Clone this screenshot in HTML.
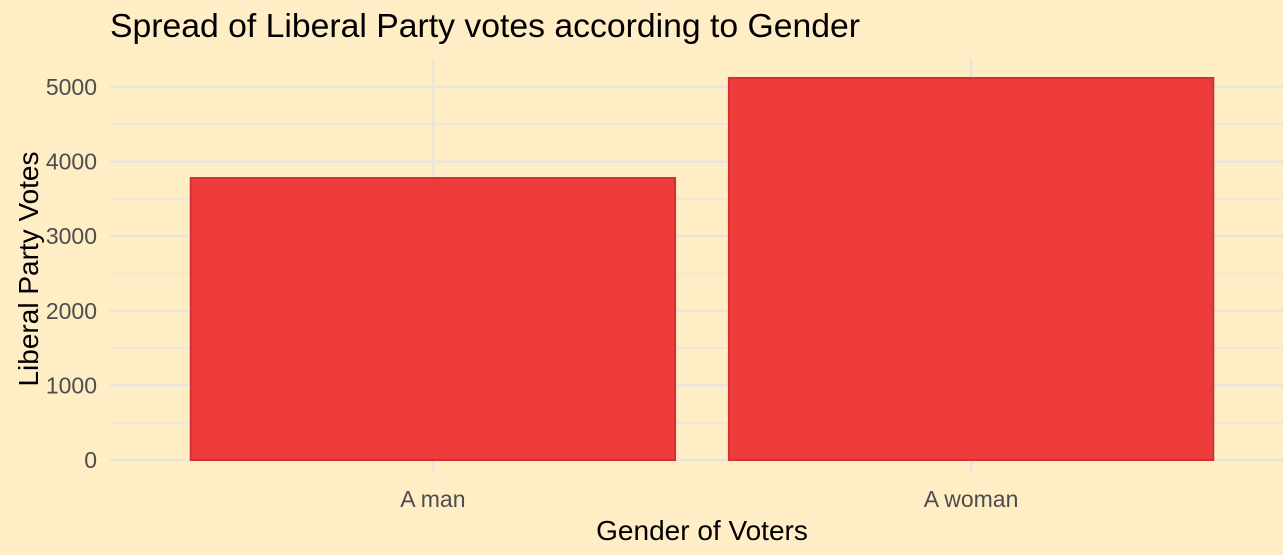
<!DOCTYPE html>
<html><head><meta charset="utf-8"><style>
html,body{margin:0;padding:0;background:#FFEDC5;}
svg{display:block;font-family:"Liberation Sans",Arial,sans-serif;}
</style></head><body>
<svg id="chart" width="1283" height="555">
<rect width="1283" height="555" fill="#FFEDC5"/>
<text x="110" y="37" font-size="33" textLength="750" lengthAdjust="spacingAndGlyphs" fill="#000">Spread of Liberal Party votes according to Gender</text>
<g id="grid"></g><g id="bars"></g><g id="axes"></g>
<text x="702" y="540" font-size="28" text-anchor="middle" fill="#000">Gender of Voters</text>
<text transform="translate(38,269) rotate(-90)" font-size="28" text-anchor="middle" fill="#000">Liberal Party Votes</text>
</svg>
<script>
const categories=["A man","A woman"];
const votes=[3780,5121];
const yTicks=[0,1000,2000,3000,4000,5000];
const NS="http://www.w3.org/2000/svg";
const left=110,right=1294,y0=460,pxPer=0.0746;
const step=(right-left)/(categories.length-1+1.2);
function xPos(i){return left+0.6*step+i*step;}
function yPos(v){return y0-v*pxPer;}
function mk(tag,attrs,parent){const e=document.createElementNS(NS,tag);for(const k in attrs)e.setAttribute(k,attrs[k]);parent.appendChild(e);return e;}
const grid=document.getElementById('grid'),bars=document.getElementById('bars'),axes=document.getElementById('axes');
const gc="#E9E5DC";
for(let i=0;i<yTicks.length;i++){
  const y=yPos(yTicks[i]);
  const l=mk('line',{x1:left,x2:1283,y1:y,y2:y,stroke:gc,'stroke-width':2.5},grid);
  
  
  if(i<yTicks.length-1){const ym=yPos((yTicks[i]+yTicks[i+1])/2);
    const m=mk('line',{x1:left,x2:1283,y1:ym,y2:ym,stroke:gc,'stroke-width':1.3},grid);
    
    }
  const t=mk('text',{x:97,y:y+8,'font-size':23,'text-anchor':'end',fill:'#4D4D4D'},axes);
  t.textContent=yTicks[i];
  
  
}
categories.forEach((c,i)=>{
  const x=xPos(i);
  const l=mk('line',{x1:x,x2:x,y1:59,y2:472,stroke:gc,'stroke-width':2.5},grid);
  
  
  const w=step*0.9;
  const r=mk('rect',{x:x-w/2,y:yPos(votes[i]),width:w,height:y0-yPos(votes[i]),fill:'#EE3B3B',stroke:'#D23232','stroke-width':2},bars);
  
  
  const t=mk('text',{x:x,y:507,'font-size':23,'text-anchor':'middle',fill:'#4D4D4D'},axes);
  t.textContent=c;
  
  
});
</script>
</body></html>
